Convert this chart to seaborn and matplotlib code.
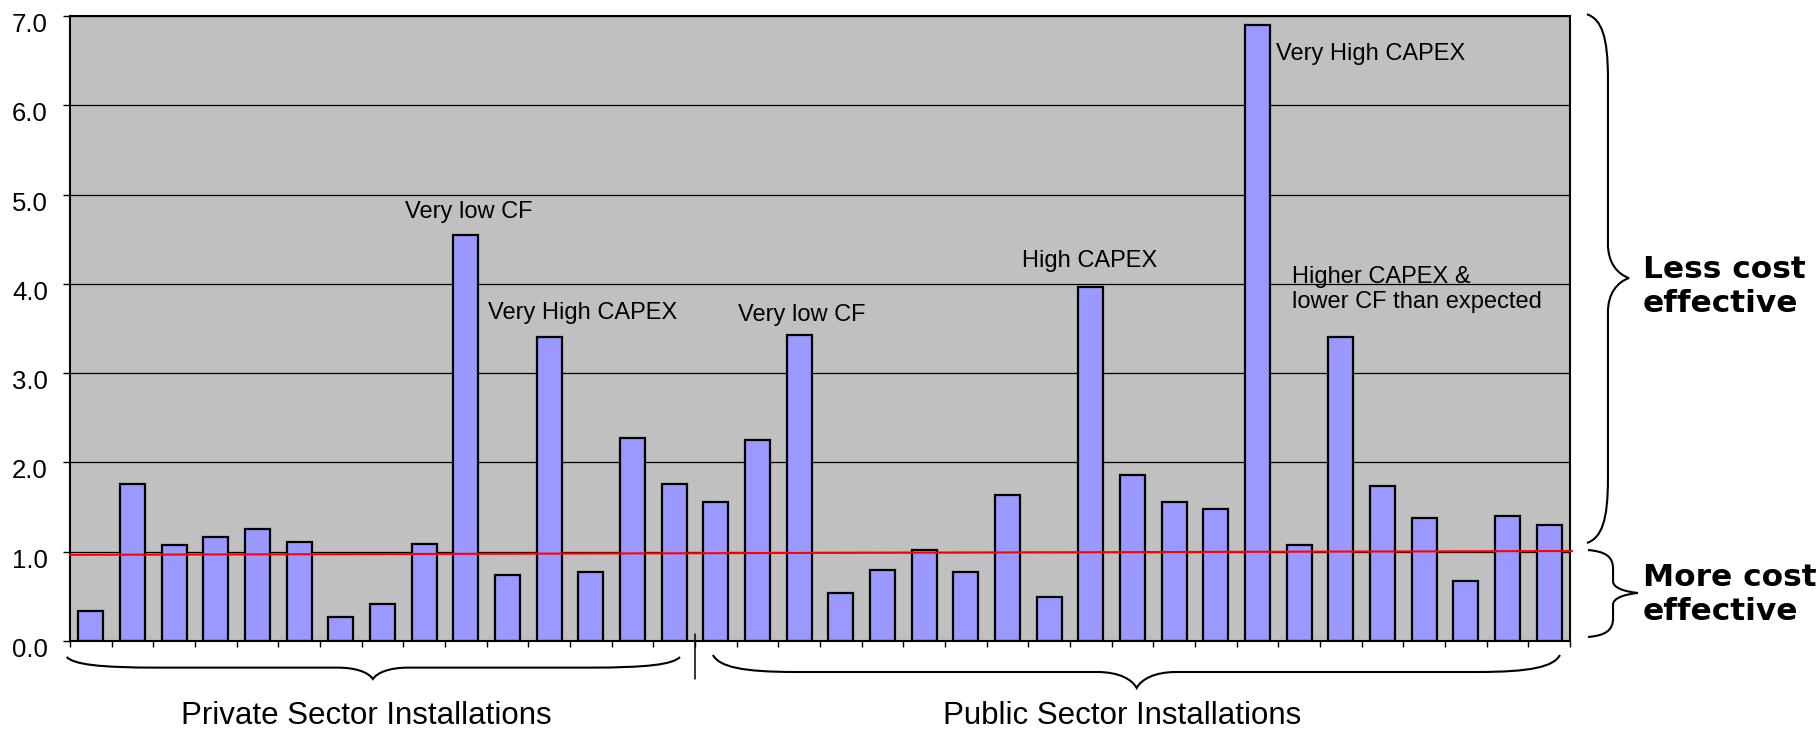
import numpy as np
import pandas as pd
import matplotlib
matplotlib.use("Agg")
import matplotlib.pyplot as plt
import matplotlib.transforms as mtransforms
from matplotlib.path import Path
from matplotlib.patches import PathPatch
import seaborn as sns

# Cost ratio per installation (1.0 = expected cost)
private_values = [0.34, 1.76, 1.07, 1.17, 1.25, 1.11, 0.27, 0.41, 1.09, 4.55,
                  0.74, 3.40, 0.77, 2.27, 1.76]
public_values = [1.56, 2.25, 3.43, 0.54, 0.80, 1.02, 0.77, 1.63, 0.49, 3.97,
                 1.86, 1.56, 1.48, 6.90, 1.07, 3.40, 1.74, 1.38, 0.67, 1.40, 1.30]
sector_labels = ["Private Sector Installations", "Public Sector Installations"]
y_ticks = [0, 1, 2, 3, 4, 5, 6, 7]
trend_values = [0.965, 1.008]
side_labels = ["Less cost\neffective", "More cost\neffective"]

# (text, x in bar units, y of last baseline, alignment)
notes = [
    ("Very low CF", 9.06, 4.74, "center"),
    ("Very High CAPEX", 9.53, 3.61, "left"),
    ("Very low CF", 17.07, 3.58, "center"),
    ("High CAPEX", 23.98, 4.19, "center"),
    ("Very High CAPEX", 28.45, 6.51, "left"),
    ("Higher CAPEX &\nlower CF than expected", 28.83, 3.73, "left"),
]

values = private_values + public_values
n_priv = len(private_values)
n_all = len(values)
df = pd.DataFrame({"site": np.arange(n_all), "ratio": values})

sns.set_theme(style="white")
plt.rcParams["font.family"] = ["Liberation Sans", "DejaVu Sans"]
plt.rcParams["text.color"] = "black"

W, H = 1819, 729
fig = plt.figure(figsize=(W / 100, H / 100), dpi=100)
ax = fig.add_axes([70 / W, 88 / H, 1500 / W, 625 / H])
ax.set_facecolor("#C0C0C0")

sns.barplot(data=df, x="site", y="ratio", color="#9999FF", saturation=1,
            edgecolor="black", linewidth=1.6, width=0.6, ax=ax, zorder=2)

ax.set_xlim(-0.5, n_all - 0.5)
ax.set_ylim(0, 7)
ax.set_xlabel("")
ax.set_ylabel("")
ax.set_xticks(np.arange(-0.5, n_all, 1.0))
ax.set_xticklabels([])
ax.set_yticks(y_ticks)
ax.set_yticklabels([f"{v:.1f}" for v in y_ticks])
ax.tick_params(axis="x", direction="out", length=4, width=1, color="black", bottom=True)
ax.tick_params(axis="y", direction="out", length=5, width=1, color="black",
               left=True, labelsize=18.5, pad=11, labelcolor="black")
ax.yaxis.grid(True, color="black", linewidth=0.9)
ax.xaxis.grid(False)
ax.set_axisbelow(True)
for side, sp in ax.spines.items():
    sp.set_visible(True)
    sp.set_color("black")
    sp.set_linewidth(1.5)

shift = mtransforms.ScaledTranslation(0, -0.065, fig.dpi_scale_trans)
for lbl in ax.get_yticklabels():
    lbl.set_transform(lbl.get_transform() + shift)

# red reference line across the plot
ax.plot([-0.5, n_all - 0.45], trend_values, color="#FF0000", linewidth=1.5,
        zorder=4, clip_on=False)

for text, x, y, ha in notes:
    ax.text(x, y, text, ha=ha, va="baseline", fontsize=17, color="black",
            linespacing=1.2, zorder=5)


def brace(a0, a1, am, b_end, b_line, b_tip, r_end, r_mid, vertical, trans):
    s = 1.0 if a1 > a0 else -1.0
    k = 0.7 * (b_line - b_end)
    t = 0.45 * (b_tip - b_line)
    pts = [
        (a0, b_end),
        (a0 + s * 0.08 * r_end, b_end + k), (a0 + s * 0.35 * r_end, b_line), (a0 + s * r_end, b_line),
        (am - s * r_mid, b_line),
        (am - s * 0.45 * r_mid, b_line), (am - s * 0.12 * r_mid, b_line + t), (am, b_tip),
        (am + s * 0.12 * r_mid, b_line + t), (am + s * 0.45 * r_mid, b_line), (am + s * r_mid, b_line),
        (a1 - s * r_end, b_line),
        (a1 - s * 0.35 * r_end, b_line), (a1 - s * 0.08 * r_end, b_end + k), (a1, b_end),
    ]
    if vertical:
        pts = [(b, a) for a, b in pts]
    codes = [Path.MOVETO, Path.CURVE4, Path.CURVE4, Path.CURVE4, Path.LINETO,
             Path.CURVE4, Path.CURVE4, Path.CURVE4, Path.CURVE4, Path.CURVE4,
             Path.CURVE4, Path.LINETO, Path.CURVE4, Path.CURVE4, Path.CURVE4]
    patch = PathPatch(Path(pts, codes), facecolor="none", edgecolor="black",
                      linewidth=1.5, transform=trans, clip_on=False)
    ax.add_patch(patch)


xt = ax.get_xaxis_transform()
yt = ax.get_yaxis_transform()

# braces under the two groups of installations
brace(-0.58, 14.14, 6.77, -0.0256, -0.0426, -0.0608, 2.2, 0.85, False, xt)
brace(14.93, 35.26, 25.1, -0.0224, -0.0496, -0.0752, 2.0, 0.95, False, xt)

# divider between the groups
ax.plot([n_priv - 0.5, n_priv - 0.5], [0.0112, -0.0608], color="black",
        linewidth=1.1, transform=xt, clip_on=False)

ax.text(6.6, -0.1328, sector_labels[0], transform=xt, ha="center",
        va="baseline", fontsize=22.5, color="black")
ax.text(24.74, -0.1328, sector_labels[1], transform=xt, ha="center",
        va="baseline", fontsize=22.5, color="black")

# braces on the right-hand side
brace(7.02, 1.098, 4.065, 1.0113, 1.0253, 1.0393, 0.72, 0.38, True, yt)
brace(1.019, 0.045, 0.538, 1.012, 1.0287, 1.0453, 0.21, 0.13, True, yt)

ax.text(1.0487, 3.685, side_labels[0], transform=yt, ha="left", va="baseline",
        fontsize=22.5, fontweight="bold", family=["DejaVu Sans"], linespacing=1.2,
        color="black")
ax.text(1.0487, 0.235, side_labels[1], transform=yt, ha="left", va="baseline",
        fontsize=22.5, fontweight="bold", family=["DejaVu Sans"], linespacing=1.2,
        color="black")

fig.savefig("out.png", dpi=100)
